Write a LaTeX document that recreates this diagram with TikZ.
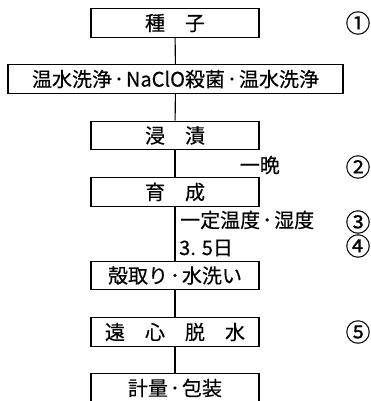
\documentclass[tikz,border=0pt]{standalone}
\usepackage{fontspec}
\setmainfont{Noto Sans CJK JP}[FakeBold=0.4]
\newcommand\middot{\hspace{2pt}･\hspace{2pt}}
\begin{document}
\begin{tikzpicture}[x=1pt,y=-1pt,
  stepbox/.style={draw, line width=1.1pt, rectangle, minimum width=168pt, minimum height=28.5pt, inner sep=0pt, font=\fontsize{20}{20}\selectfont},
  lbl/.style={inner sep=0pt, font=\fontsize{20}{20}\selectfont},
  num/.style={inner sep=0pt, font=\fontsize{25}{25}\selectfont},
  conn/.style={line width=1.1pt}]
\useasboundingbox (0,0) rectangle (371,401);
\clip (0,0) rectangle (371,401);
\node[stepbox] (s1) at (175,23) {種　子};
\node[stepbox, minimum width=335pt] (s2) at (175.5,79) {温水洗浄\middot NaClO殺菌\middot 温水洗浄};
\node[stepbox] (s3) at (175,135.5) {浸　漬};
\node[stepbox] (s4) at (175,192) {育　成};
\node[stepbox] (s5) at (175,275.5) {殻取り\middot 水洗い};
\node[stepbox] (s6) at (175,332) {遠　心　脱　水};
\node[stepbox] (s7) at (175,388) {計量\middot 包装};
\draw[conn] (s1) -- (s2);
\draw[conn] (s2) -- (s3);
\draw[conn] (s3) -- (s4);
\draw[conn] (s4) -- (s5);
\draw[conn] (s5) -- (s6);
\draw[conn] (s6) -- (s7);
\node[lbl, anchor=east] (l1) at (280,165) {一晩};
\node[lbl, anchor=west] (l2) at (180,220) {一定温度\middot 湿度};
\node[lbl, anchor=west] (l3) at (179,248) {3. 5日};
\node[num] (n1) at (358,23) {①};
\node[num] (n2) at (358,167) {②};
\node[num] (n3) at (358,222) {③};
\node[num] (n4) at (358,246) {④};
\node[num] (n5) at (358,332) {⑤};
\end{tikzpicture}
\end{document}
